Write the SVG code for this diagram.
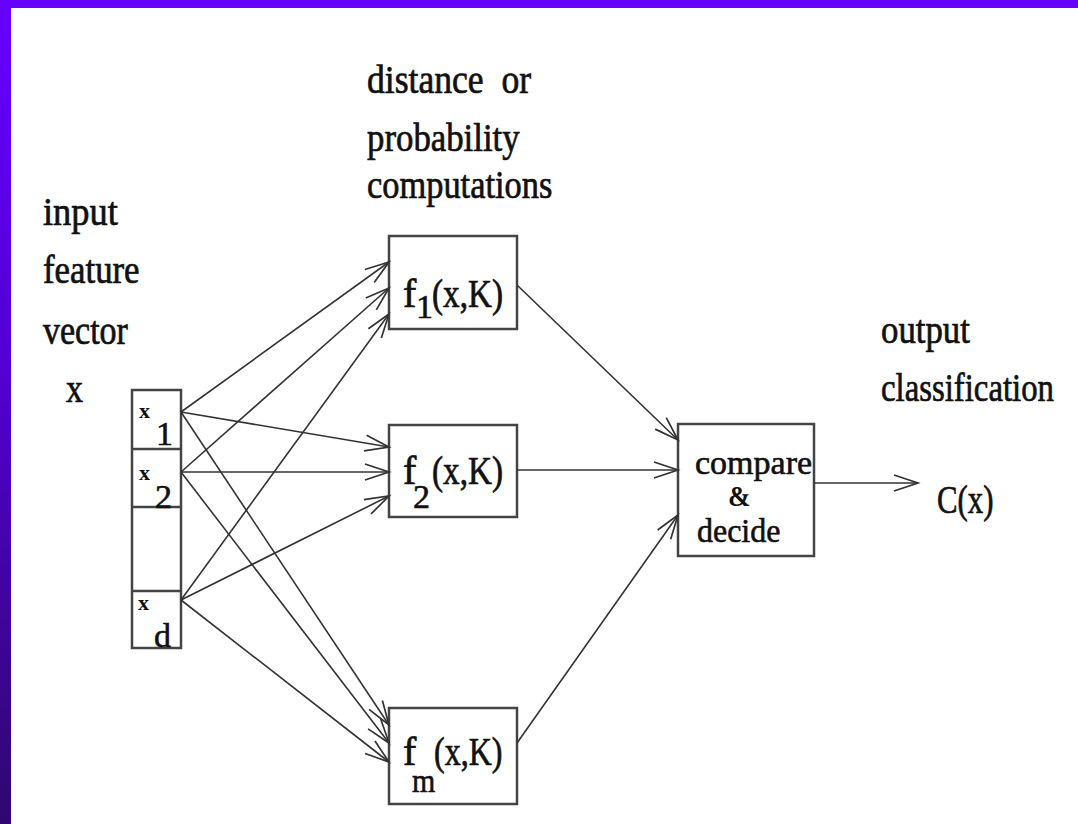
<svg xmlns="http://www.w3.org/2000/svg" width="1078" height="824" viewBox="0 0 1078 824">
<defs>
<linearGradient id="side" x1="0" y1="0" x2="0" y2="1">
<stop offset="0" stop-color="#6600FF"/>
<stop offset="0.45" stop-color="#5200D0"/>
<stop offset="1" stop-color="#2E0870"/>
</linearGradient>
<marker id="arr" markerUnits="userSpaceOnUse" markerWidth="28" markerHeight="22" refX="25" refY="11" orient="auto">
<path d="M1,3 L25,11 L1,19" fill="none" stroke="#333" stroke-width="1.7"/>
</marker>
</defs>
<style>
.lbl{font-family:"Liberation Serif","Times New Roman",serif;font-size:40px;fill:#111;stroke:#111;stroke-width:0.7;}
.cmp{font-family:"Liberation Serif","Times New Roman",serif;font-size:34px;fill:#111;stroke:#111;stroke-width:0.6;}
.amp{font-family:"Liberation Serif","Times New Roman",serif;font-size:30px;font-weight:bold;fill:#111;}
.big{font-family:"Liberation Serif","Times New Roman",serif;font-size:40px;fill:#111;stroke:#111;stroke-width:0.7;}
.sub{font-family:"Liberation Serif","Times New Roman",serif;font-size:34px;fill:#111;stroke:#111;stroke-width:0.6;}
.sx{font-family:"Liberation Serif","Times New Roman",serif;font-size:22px;font-weight:bold;fill:#111;}
.box{fill:#fff;stroke:#444;stroke-width:2.5;}
.div{stroke:#444;stroke-width:2.5;}
.con{stroke:#333;stroke-width:1.6;fill:none;marker-end:url(#arr);}
</style>
<rect x="0" y="0" width="1078" height="824" fill="#fff"/>
<rect x="0" y="0" width="1078" height="8" fill="#6600FF"/>
<rect x="0" y="0" width="11" height="824" fill="url(#side)"/>

<g id="label-input">
<text class="lbl" transform="translate(43,225) scale(0.91,1)">input</text>
<text class="lbl" transform="translate(43,283) scale(0.87,1)">feature</text>
<text class="lbl" transform="translate(43,344) scale(0.85,1)">vector</text>
<text class="lbl" transform="translate(66,402) scale(0.85,1)">x</text>
</g>
<g id="label-distance">
<text class="lbl" transform="translate(367,93) scale(0.89,1)" xml:space="preserve">distance  or</text>
<text class="lbl" transform="translate(367,151) scale(0.87,1)">probability</text>
<text class="lbl" transform="translate(367,198) scale(0.86,1)">computations</text>
</g>
<g id="label-output">
<text class="lbl" transform="translate(881,343) scale(0.87,1)">output</text>
<text class="lbl" transform="translate(881,401) scale(0.82,1)">classification</text>
</g>

<g id="input-vector">
<rect class="box" x="132" y="390" width="49" height="258"/>
<line class="div" x1="132" y1="449" x2="181" y2="449"/>
<line class="div" x1="132" y1="507" x2="181" y2="507"/>
<line class="div" x1="132" y1="591" x2="181" y2="591"/>
<text class="sx" x="139" y="418">x</text><text class="sub" x="156" y="445">1</text>
<text class="sx" x="139" y="480">x</text><text class="sub" x="155" y="508">2</text>
<text class="sx" x="138" y="610">x</text><text class="sub" x="154" y="647">d</text>
</g>

<g id="f1">
<rect class="box" x="389" y="236" width="128" height="93"/>
<text class="big" x="403" y="307">f</text><text class="sub" x="416" y="318">1</text>
<text class="big" transform="translate(432,307) scale(0.83,1)">(x,K)</text>
</g>
<g id="f2">
<rect class="box" x="389" y="425" width="128" height="92"/>
<text class="big" x="403" y="484">f</text><text class="sub" x="413" y="508">2</text>
<text class="big" transform="translate(432,484) scale(0.83,1)">(x,K)</text>
</g>
<g id="fm">
<rect class="box" x="389" y="708" width="128" height="96"/>
<text class="big" x="403" y="765">f</text><text class="sub" transform="translate(412,792) scale(0.88,1)">m</text>
<text class="big" transform="translate(434,765) scale(0.8,1)">(x,K)</text>
</g>
<g id="compare">
<rect class="box" x="678" y="424" width="136" height="132"/>
<text class="cmp" transform="translate(695,474) scale(1,1)">compare</text>
<text class="amp" transform="translate(728,506) scale(0.9,1)">&amp;</text>
<text class="cmp" transform="translate(697,542) scale(0.94,1)">decide</text>
</g>
<g id="output">
<text class="lbl" transform="translate(937,513) scale(0.77,1)">C(x)</text>
</g>

<g id="connectors">
<line class="con" x1="181" y1="412" x2="389" y2="262"/>
<line class="con" x1="181" y1="472" x2="389" y2="288"/>
<line class="con" x1="181" y1="600" x2="389" y2="314"/>
<line class="con" x1="181" y1="412" x2="389" y2="447"/>
<line class="con" x1="181" y1="472" x2="389" y2="472"/>
<line class="con" x1="181" y1="600" x2="389" y2="496"/>
<line class="con" x1="181" y1="412" x2="389" y2="725"/>
<line class="con" x1="181" y1="472" x2="389" y2="743"/>
<line class="con" x1="181" y1="600" x2="389" y2="762"/>
<line class="con" x1="517" y1="285" x2="678" y2="440"/>
<line class="con" x1="517" y1="470" x2="678" y2="470"/>
<line class="con" x1="517" y1="743" x2="678" y2="515"/>
<line class="con" x1="814" y1="483" x2="918" y2="483" stroke-width="2.5"/>
</g>
</svg>
